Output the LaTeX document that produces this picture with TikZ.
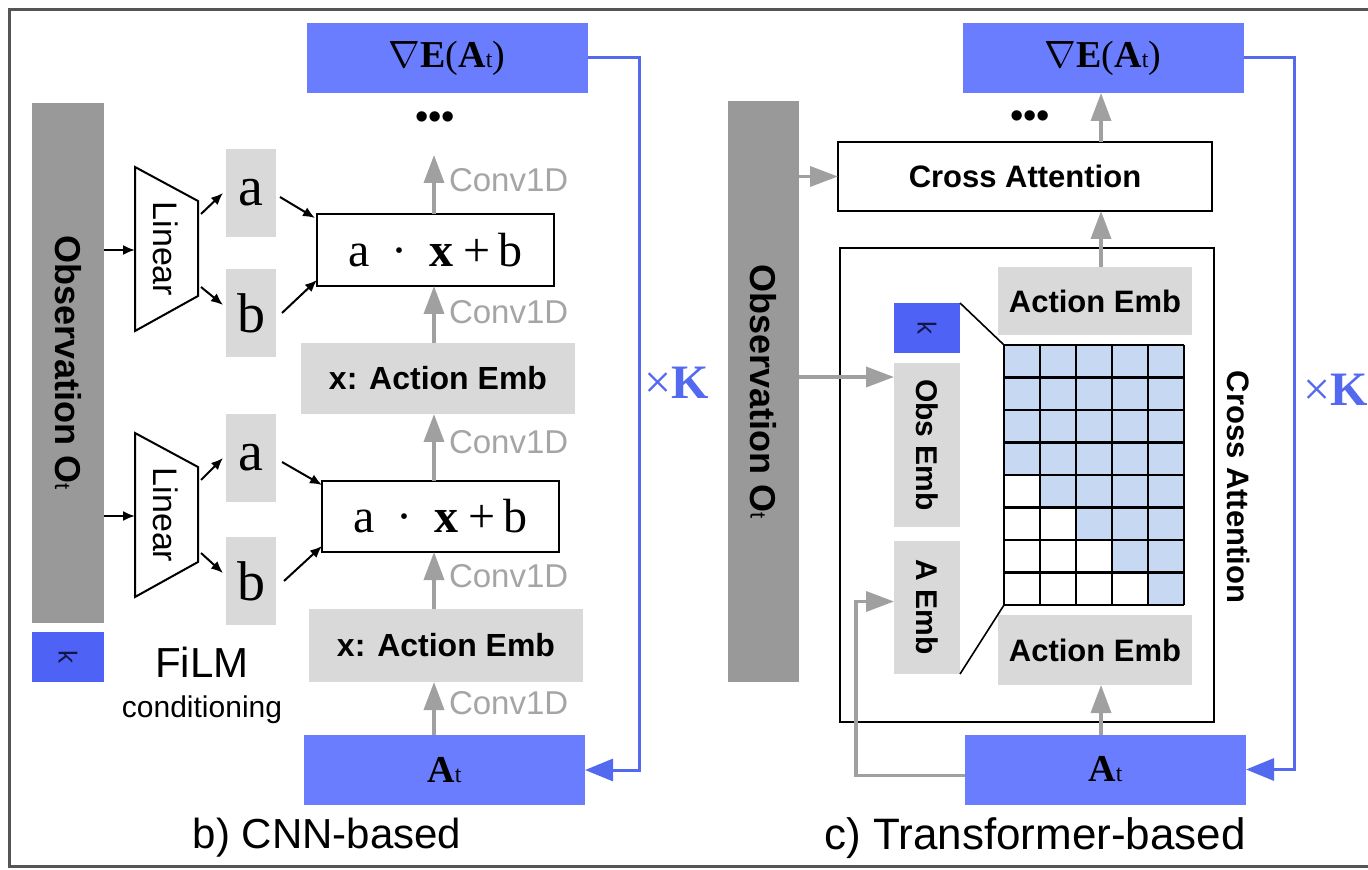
\RequirePackage{fix-cm}
\documentclass[tikz,border=0pt]{standalone}
\usepackage{fontspec}
\usepackage{graphicx}
\setmainfont{Liberation Sans}
\newfontfamily\timesfont{Liberation Serif}
\usetikzlibrary{arrows.meta,calc}

\definecolor{boxblue}{RGB}{107,125,255}
\definecolor{kblue}{RGB}{78,98,245}
\definecolor{loopblue}{RGB}{82,105,240}
\definecolor{obsgray}{RGB}{153,153,153}
\definecolor{embgray}{RGB}{217,217,217}
\definecolor{arrgray}{RGB}{160,160,160}
\definecolor{convgray}{RGB}{165,165,165}
\definecolor{cellblue}{RGB}{198,216,242}
\definecolor{framegray}{RGB}{85,85,85}

\newcommand{\fsz}[1]{\fontsize{#1}{#1}\selectfont}
\newcommand{\gradE}{{\timesfont\fsz{19}$\nabla$\textbf{E}(\textbf{A}{\fsz{12}t})}}
\newcommand{\actA}{{\timesfont\fsz{19}\textbf{A}{\fsz{12}t}}}
\newcommand{\obsO}{{\bfseries\fsz{18}Observation O{\mdseries\fsz{11}t}}}
\newcommand{\affx}{{\timesfont\fsz{24}a\hspace{11pt}·\hspace{11pt}\textbf{x}\hspace{5pt}+\hspace{4pt}b}}
\newcommand{\timesK}{{\timesfont\fsz{24}×\textbf{K}}}

\begin{document}
\begin{tikzpicture}[x=0.5pt, y=-0.5pt,
  every node/.style={inner sep=0pt, outer sep=0pt},
  blk/.style={fill=boxblue, minimum width=140.5pt, minimum height=35pt},
  obsbar/.style={fill=obsgray, minimum width=36pt},
  kbox/.style={fill=kblue, minimum width=33pt, minimum height=25pt, text={rgb,255:red,20;green,20;blue,70}, font=\fsz{13}},
  abbox/.style={fill=embgray, minimum width=25pt, minimum height=44pt, font=\timesfont\fsz{28}},
  emb/.style={fill=embgray, font=\bfseries\fsz{16}},
  embv/.style={fill=embgray, minimum width=33pt, font=\bfseries\fsz{15}},
  wbox/.style={draw=black, line width=1.1pt, fill=white},
  dotsty/.style={font=\fsz{19}},
  conv/.style={draw=arrgray, line width=1.8pt, -{Triangle[width=10pt,length=14pt]}},
  convlbl/.style={text=convgray, font=\fsz{16.5}, anchor=west, xshift=7.5pt},
  garr/.style={draw=arrgray, line width=1.8pt, -{Triangle[width=10pt,length=14pt]}},
  filmarr/.style={line width=1pt, -{Latex[width=5pt,length=6pt]}},
  backarr/.style={draw=loopblue, line width=1.5pt, -{Triangle[width=11pt,length=14pt]}},
  cell/.style={line width=1.2pt},
  caption/.style={font=\fsz{21}}
]
\useasboundingbox (0,0) rectangle (1368,870);

% outer frame
\draw[framegray, line width=1.5pt] (1390,10) -- (9,10) -- (9,866) -- (1390,866);

% ---------------- b) CNN-based ----------------
\node[blk] (gradL) at (447,58) {\gradE};
\node[dotsty] (dotsL) at (435,121) {•••};
\node[obsbar, minimum height=260pt] (obsL) at (68,363) {\rotatebox{-90}{\obsO}};
\node[kbox, minimum width=36pt] (kL) at (68,657) {\rotatebox{-90}{k}};

% Linear layers
\draw[line width=1pt] (135,167) -- (198,201) -- (198,296) -- (135,331) -- cycle;
\node[font=\fsz{17}] (linU) at (166,249) {\rotatebox{-90}{Linear}};
\coordinate (linUw) at (135,250);
\coordinate (linUe) at (198,250);
\draw[line width=1pt] (135,433) -- (198,467) -- (198,562) -- (135,597) -- cycle;
\node[font=\fsz{17}] (linL) at (166,515) {\rotatebox{-90}{Linear}};
\coordinate (linLw) at (135,516);
\coordinate (linLe) at (198,516);

% scale and bias
\node[abbox] (aU) at (251,193) {a};
\node[abbox] (bU) at (251,313) {b};
\node[abbox] (aL) at (251,458) {a};
\node[abbox] (bL) at (251,581) {b};

% FiLM blocks
\node[wbox, minimum width=118.5pt, minimum height=36pt] (affU) at (435.5,250) {\affx};
\node[wbox, minimum width=118.5pt, minimum height=35.5pt] (affL) at (440.5,516.5) {\affx};
\node[emb, minimum width=137pt, minimum height=35.5pt] (embU) at (438,378.5) {x: Action Emb};
\node[emb, minimum width=137pt, minimum height=36.5pt] (embL) at (446,645.5) {x: Action Emb};
\node[blk] (AtL) at (444.5,770) {\actA};

\node[font=\fsz{21}] (filmLbl) at (202,662) {FiLM};
\node[font=\fsz{15}] (condLbl) at (202,710) {conditioning};
\node[caption] (capL) at (327,838) {b) CNN-based};

% Conv1D arrows
\coordinate (cxL) at (434,0);
\coordinate (topL) at (434,155);
\draw[conv] (affU.north -| cxL) -- (topL) node[convlbl, pos=0.58] {Conv1D};
\draw[conv] (embU.north -| cxL) -- (affU.south -| cxL) node[convlbl, pos=0.55] {Conv1D};
\draw[conv] (affL.north -| cxL) -- (embU.south -| cxL) node[convlbl, pos=0.58] {Conv1D};
\draw[conv] (embL.north -| cxL) -- (affL.south -| cxL) node[convlbl, pos=0.58] {Conv1D};
\draw[conv] (AtL.north -| cxL) -- (embL.south -| cxL) node[convlbl, pos=0.6] {Conv1D};

% conditioning arrows
\draw[filmarr] (obsL.east |- linUw) -- (linUw);
\draw[filmarr] ($(linUe)+(3,-36)$) -- ([xshift=-1.5pt]aU.west);
\draw[filmarr] ($(linUe)+(3,37)$) -- ([xshift=-1.5pt,yshift=4pt]bU.west);
\draw[filmarr] ([xshift=2pt,yshift=-2pt]aU.east) -- ([xshift=-1pt,yshift=-2pt]affU.north west);
\draw[filmarr] ([xshift=3pt]bU.east) -- ([yshift=3pt]affU.south west);
\draw[filmarr] (obsL.east |- linLw) -- (linLw);
\draw[filmarr] ($(linLe)+(3,-36)$) -- ([xshift=-1.5pt]aL.west);
\draw[filmarr] ($(linLe)+(3,37)$) -- ([xshift=-1.5pt,yshift=4pt]bL.west);
\draw[filmarr] ([xshift=3pt,yshift=-2pt]aL.east) -- ([yshift=-2pt]affL.north west);
\draw[filmarr] ([xshift=4pt]bL.east) -- ([yshift=3pt]affL.south west);

% K iterations
\coordinate (loopL) at (639,0);
\draw[backarr] (gradL.east) -- (gradL.east -| loopL) -- (AtL.east -| loopL) -- (AtL.east);
\node[text=loopblue] (kmulL) at (677,383) {\timesK};

% ---------------- c) Transformer-based ----------------
\node[blk] (gradR) at (1103,58) {\gradE};
\node[dotsty] (dotsR) at (1030,120) {•••};
\node[obsbar, minimum width=35.5pt, minimum height=290.5pt] (obsR) at (763.5,391.5) {\rotatebox{-90}{\obsO}};
\node[wbox, minimum width=187pt, minimum height=34.5pt, font=\bfseries\fsz{15.5}] (crossR) at (1025,176.5) {Cross Attention};
\node[draw, line width=1.1pt, minimum width=187pt, minimum height=237pt] (blockR) at (1027,485) {};
\node[emb, minimum width=97pt, minimum height=34pt, font=\bfseries\fsz{15.5}] (embRU) at (1095,301) {Action Emb};
\node[emb, minimum width=97pt, minimum height=35pt, font=\bfseries\fsz{15.5}] (embRL) at (1095,650) {Action Emb};
\node[kbox] (kR) at (927,328) {\rotatebox{-90}{k}};
\node[embv, minimum height=82pt] (obsEmb) at (927,445) {\rotatebox{-90}{Obs Emb}};
\node[embv, minimum height=66.5pt] (aEmb) at (927,607.5) {\rotatebox{-90}{A Emb}};
\node[font=\bfseries\fsz{15.5}] (crossLbl) at (1239,487) {\rotatebox{-90}{Cross Attention}};
\node[blk] (AtR) at (1105.5,769.5) {\actA};
\node[caption, font=\fsz{22}] (capR) at (1035,838) {c) Transformer-based};

% causal attention mask
\foreach \r in {0,...,7}{
  \foreach \c in {0,...,4}{
    \ifnum\c>\numexpr\r-4\relax
      \fill[cellblue] ({1004+36*\c},{345+32.5*\r}) rectangle ++(36,32.5);
    \fi
  }
}
\foreach \c in {0,...,5} \draw[cell] ({1004+36*\c},345) -- ({1004+36*\c},605);
\foreach \r in {0,...,8} \draw[cell] (1004,{345+32.5*\r}) -- (1184,{345+32.5*\r});
\coordinate (gridNW) at (1004,345);
\coordinate (gridSW) at (1004,605);
\draw[line width=0.8pt] (kR.north east) -- (gridNW);
\draw[line width=0.8pt] (aEmb.south east) -- (gridSW);

% data flow
\coordinate (cxR) at (1101,0);
\draw[garr] (crossR.north -| cxR) -- (gradR.south -| cxR);
\draw[garr] (embRU.north -| cxR) -- (crossR.south -| cxR);
\draw[garr] (AtR.north -| cxR) -- (embRL.south -| cxR);
\draw[garr] (obsR.east |- crossR.west) -- (crossR.west);
\coordinate (obsIn) at ([yshift=-7pt]obsEmb.north west);
\draw[garr] (obsR.east |- obsIn) -- (obsIn);
\coordinate (aIn) at ([yshift=3pt]aEmb.west);
\coordinate (aRet) at (856,0);
\draw[garr] ([yshift=-3pt]AtR.west) -| (aRet |- aIn) -- (aIn);

% K iterations
\coordinate (loopR) at (1294,0);
\draw[backarr] (gradR.east) -- (gradR.east -| loopR) -- (AtR.east -| loopR) -- (AtR.east);
\node[text=loopblue] (kmulR) at (1336,390) {\timesK};

\end{tikzpicture}
\end{document}
